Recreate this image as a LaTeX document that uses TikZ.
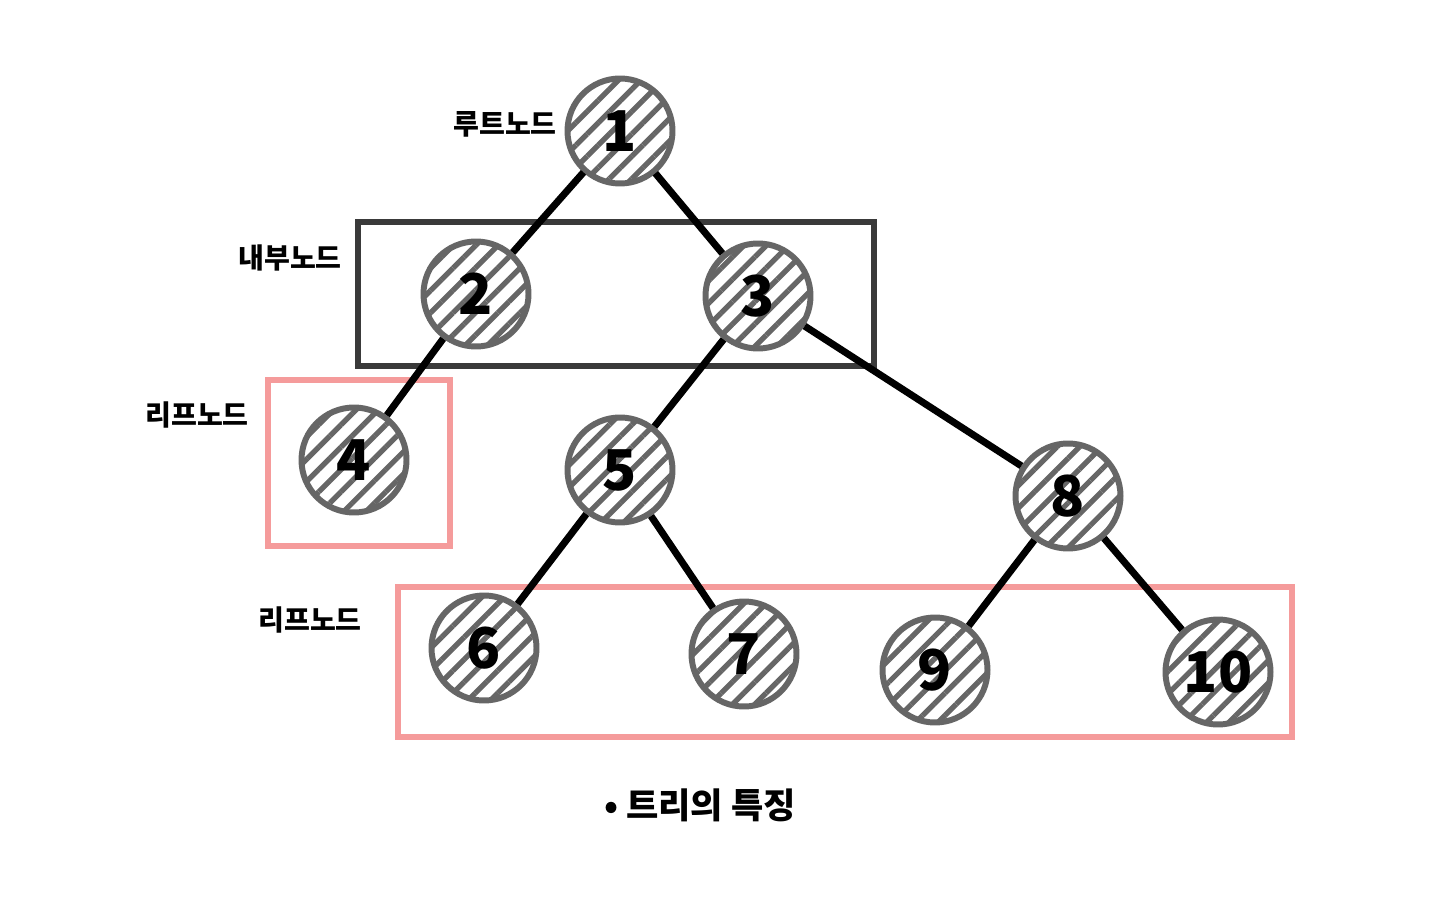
\documentclass[tikz,border=0pt]{standalone}
\usepackage{fontspec}
\newfontfamily\kr{Noto Sans CJK KR}
\usetikzlibrary{patterns.meta}
\definecolor{ringgray}{HTML}{666666}
\definecolor{boxgray}{HTML}{3A3A3A}
\definecolor{leafpink}{HTML}{F59B9B}
\begin{document}
\begin{tikzpicture}[
  tnode/.style={circle,draw=ringgray,line width=3.4pt,minimum size=2.1cm,inner sep=0pt,
    pattern={Lines[angle=45,distance=9pt,line width=3pt]},pattern color=ringgray,
    font=\kr\bfseries\fontsize{32}{32}\selectfont},
  edge/.style={line width=4pt},
  lbl/.style={font=\kr\bfseries\fontsize{16}{16}\selectfont}
]
\useasboundingbox (0,0) rectangle (28.8,18);

% groups
\draw[boxgray,line width=3.4pt] (7.16,10.68) rectangle (17.48,13.56);
\draw[leafpink,line width=3.4pt] (5.36,7.08) rectangle (9.0,10.4);
\draw[leafpink,line width=3.4pt] (7.96,3.26) rectangle (25.84,6.26);

% nodes
\node[tnode] (n1) at (12.4,15.38) {1};
\node[tnode] (n2) at (9.52,12.12) {2};
\node[tnode] (n3) at (15.16,12.08) {3};
\node[tnode] (n4) at (7.08,8.8) {4};
\node[tnode] (n5) at (12.4,8.6) {5};
\node[tnode] (n8) at (21.36,8.08) {8};
\node[tnode] (n6) at (9.68,5.04) {6};
\node[tnode] (n7) at (14.88,4.92) {7};
\node[tnode] (n9) at (18.7,4.6) {9};
\node[tnode] (n10) at (24.36,4.56) {10};

\draw[edge] (n1) -- (n2);
\draw[edge] (n1) -- (n3);
\draw[edge] (n2) -- (n4);
\draw[edge] (n3) -- (n5);
\draw[edge] (n3) -- (n8);
\draw[edge] (n5) -- (n6);
\draw[edge] (n5) -- (n7);
\draw[edge] (n8) -- (n9);
\draw[edge] (n8) -- (n10);

% labels
\node[lbl] (root) at (10.1,15.52) {루트노드};
\node[lbl] (inner) at (5.8,12.84) {내부노드};
\node[lbl] (leafa) at (3.94,9.7) {리프노드};
\node[lbl] (leafb) at (6.2,5.6) {리프노드};
\node[font=\kr\bfseries\fontsize{20}{20}\selectfont] (title) at (14.0,1.9) {• 트리의 특징};
\end{tikzpicture}
\end{document}
